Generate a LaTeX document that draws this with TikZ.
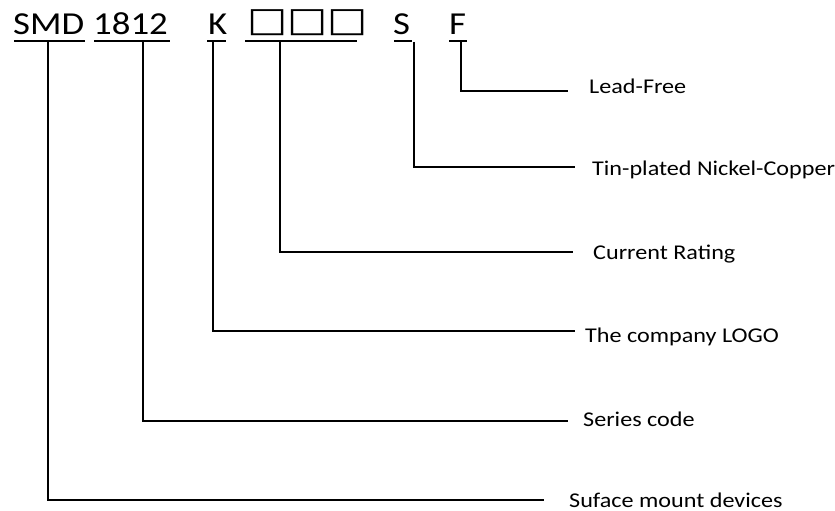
\documentclass[tikz,border=0pt]{standalone}
\usepackage{fontspec}
\setmainfont[FakeStretch=1.15]{Carlito}
\newfontfamily\symfont[FakeStretch=1.25]{DejaVu Sans}
\begin{document}
\begin{tikzpicture}[x=1pt,y=-1pt,
  code/.style={anchor=base west,inner sep=0pt,font=\fontsize{32}{36}\selectfont},
  lab/.style={anchor=base west,inner sep=0pt,font=\fontsize{21}{24}\selectfont},
  uline/.style={line width=1.8pt},
  conn/.style={line width=1.1pt}]
\useasboundingbox (0,0) rectangle (835,511);
% code parts
\node[code] (smd) at (13,35) {SMD};
\node[code] (n1812) at (93,35) {1812};
\node[code] (k) at (208,35) {K};
\node[code,font=\fontsize{34}{40}\selectfont\symfont] (box) at (247,32) {□□□};
\node[code] (s) at (393,35) {S};
\node[code] (f) at (449,35) {F};
% underlines
\draw[uline] (14,41) -- (85,41);
\draw[uline] (94,41) -- (170,41);
\draw[uline] (207,41) -- (226,41);
\draw[uline] (245,41) -- (357,41);
\draw[uline] (394,41) -- (412,41);
\draw[uline] (449,41) -- (467,41);
% labels
\node[lab] (lf) at (589,93) {Lead-Free};
\node[lab] (ls) at (592,175) {Tin-plated Nickel-Copper};
\node[lab] (lb) at (593,259) {Current Rating};
\node[lab] (lk) at (585,342) {The company LOGO};
\node[lab] (ln) at (583,426) {Series code};
\node[lab] (lsmd) at (569,507) {Suface mount devices};
% connector start and end points
\coordinate (vf) at (461,42);  \coordinate (ef) at (568,91);
\coordinate (vs) at (414,42);  \coordinate (es) at (575,167);
\coordinate (vb) at (280,42);  \coordinate (eb) at (573,252);
\coordinate (vk) at (213,42);  \coordinate (ek) at (575,331);
\coordinate (vn) at (143,42);  \coordinate (en) at (568,421);
\coordinate (vm) at (48,42);   \coordinate (em) at (544,500);
\draw[conn] (vf) |- (ef);
\draw[conn] (vs) |- (es);
\draw[conn] (vb) |- (eb);
\draw[conn] (vk) |- (ek);
\draw[conn] (vn) |- (en);
\draw[conn] (vm) |- (em);
\end{tikzpicture}
\end{document}
